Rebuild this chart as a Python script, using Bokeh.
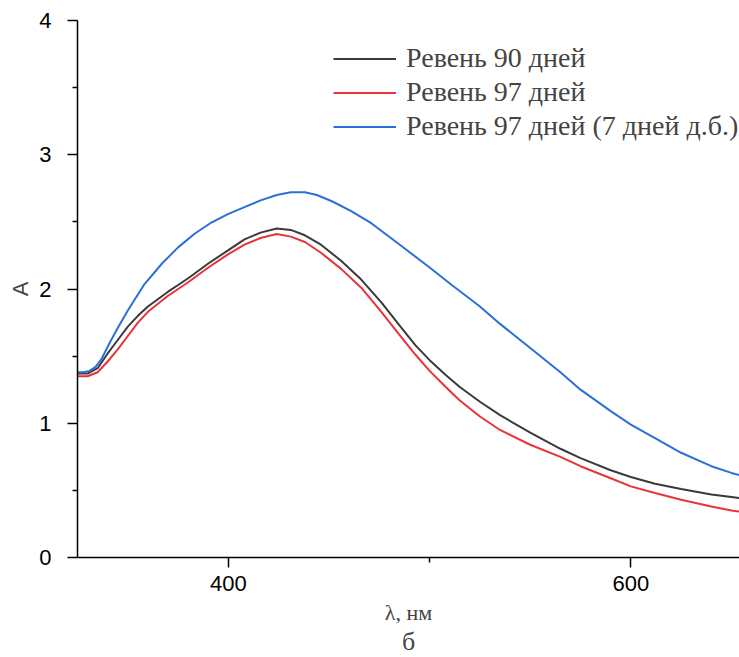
from bokeh.plotting import figure
from bokeh.models import Range1d, FixedTicker, Legend, LegendItem, Title
from bokeh.embed import file_html
from bokeh.resources import INLINE

# Wavelength grid (nm) and absorbance values
wl_black = [325, 330, 335, 340, 345, 350, 355, 360, 370, 375, 380, 390, 400, 408, 416,
            424, 431, 438, 446, 456, 466, 476, 486, 493, 500, 508, 515, 525, 535, 550,
            565, 575, 590, 600, 612, 625, 640, 650, 655]
a_black = [1.37, 1.37, 1.41, 1.52, 1.62, 1.72, 1.80, 1.87, 1.98, 2.03, 2.08, 2.19, 2.29, 2.37, 2.42,
           2.45, 2.44, 2.40, 2.33, 2.21, 2.07, 1.90, 1.71, 1.58, 1.47, 1.36, 1.27, 1.16, 1.06, 0.93,
           0.81, 0.74, 0.65, 0.60, 0.55, 0.51, 0.47, 0.45, 0.44]

wl_red = [325, 330, 335, 340, 345, 350, 355, 360, 370, 380, 390, 400, 408, 416, 424,
          431, 438, 446, 456, 466, 476, 486, 493, 500, 508, 515, 525, 535, 550, 565,
          575, 590, 600, 612, 625, 640, 650, 655]
a_red = [1.35, 1.35, 1.38, 1.46, 1.55, 1.65, 1.75, 1.83, 1.95, 2.05, 2.16, 2.26, 2.33, 2.38, 2.41,
         2.39, 2.35, 2.27, 2.15, 2.01, 1.83, 1.64, 1.51, 1.39, 1.27, 1.17, 1.05, 0.95, 0.84, 0.75,
         0.68, 0.59, 0.53, 0.48, 0.43, 0.38, 0.35, 0.34]

wl_blue = [325, 328, 331, 334, 337, 341, 345, 350, 358, 367, 375, 383, 391, 400, 408, 416, 424,
           431, 438, 444, 452, 461, 471, 486, 500, 511, 525, 535, 550, 565, 575, 590,
           600, 612, 625, 640, 650, 655]
a_blue = [1.38, 1.38, 1.39, 1.42, 1.48, 1.60, 1.71, 1.84, 2.03, 2.19, 2.31, 2.41, 2.49, 2.56, 2.61, 2.66, 2.70,
          2.72, 2.72, 2.70, 2.65, 2.58, 2.49, 2.32, 2.16, 2.03, 1.87, 1.74, 1.56, 1.38, 1.25, 1.09,
          0.99, 0.89, 0.78, 0.68, 0.63, 0.61]

labels = ["Ревень 90 дней", "Ревень 97 дней", "Ревень 97 дней (7 дней д.б.)"]
colors = ["#3a3a3a", "#e8333b", "#2b6fd8"]

x_major = [400, 600]
x_minor = [500]
y_major = [0, 1, 2, 3, 4]
y_minor = [0.5, 1.5, 2.5, 3.5]

p = figure(width=739, height=657, output_backend="svg", toolbar_location=None,
           x_range=Range1d(325, 654), y_range=Range1d(0, 4),
           min_border_left=77, min_border_right=0, min_border_top=20, min_border_bottom=100)
p.outline_line_color = None
p.grid.visible = False
p.background_fill_color = "white"

r1 = p.line(wl_black, a_black, line_color=colors[0], line_width=2)
r2 = p.line(wl_red, a_red, line_color=colors[1], line_width=2)
r3 = p.line(wl_blue, a_blue, line_color=colors[2], line_width=2)

p.xaxis.ticker = FixedTicker(ticks=x_major, minor_ticks=x_minor)
p.yaxis.ticker = FixedTicker(ticks=y_major, minor_ticks=y_minor)

for ax in (p.xaxis, p.yaxis):
    ax.axis_line_color = "black"
    ax.axis_line_width = 1.5
    ax.major_tick_line_color = "black"
    ax.minor_tick_line_color = "black"
    ax.major_tick_line_width = 1.5
    ax.minor_tick_line_width = 1.5
    ax.major_tick_in = 0
    ax.major_tick_out = 10
    ax.minor_tick_in = 0
    ax.minor_tick_out = 5
    ax.major_label_text_font = "Liberation Sans"
    ax.major_label_text_font_size = "22px"
    ax.major_label_text_color = "black"

p.xaxis.major_label_standoff = 8
p.yaxis.major_label_standoff = 16
p.xaxis.axis_label = "λ, нм"
p.xaxis.axis_label_text_font = "Liberation Serif"
p.xaxis.axis_label_text_font_style = "normal"
p.xaxis.axis_label_text_font_size = "22px"
p.xaxis.axis_label_standoff = 6
p.yaxis.axis_label = "A"
p.yaxis.axis_label_text_font = "Liberation Sans"
p.yaxis.axis_label_text_font_style = "normal"
p.yaxis.axis_label_text_font_size = "22px"
p.yaxis.axis_label_standoff = 3

p.add_layout(Title(text="б", align="center", text_font="Liberation Serif",
                   text_font_size="26px", text_font_style="normal", standoff=-6), "below")

legend = Legend(items=[LegendItem(label=labels[0], renderers=[r1]),
                       LegendItem(label=labels[1], renderers=[r2]),
                       LegendItem(label=labels[2], renderers=[r3])],
                location=(256, 415), border_line_color=None, background_fill_alpha=0,
                label_text_font="Liberation Serif", label_text_font_size="28px",
                glyph_width=63, glyph_height=31, label_height=31, spacing=2,
                label_standoff=10, padding=10, margin=0)
p.add_layout(legend)

open("out.html", "w").write(file_html(p, INLINE))
